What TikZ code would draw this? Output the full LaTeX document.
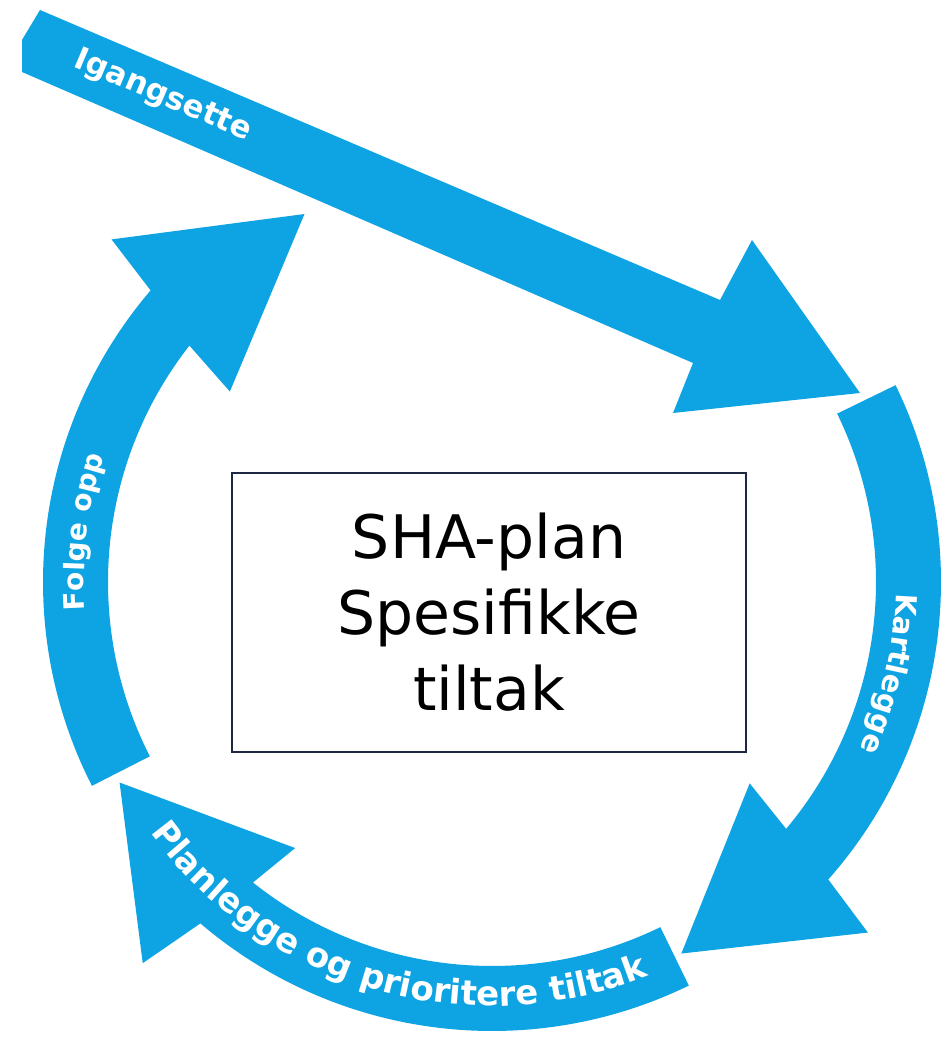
\documentclass[tikz,border=0pt]{standalone}
\usepackage{fontspec}
\newfontfamily\bandfont{DejaVu Sans}
\newfontfamily\boxfont{DejaVu Sans}
\usetikzlibrary{calc,decorations.text}
\definecolor{ringblue}{RGB}{14,164,228}
\definecolor{boxnavy}{RGB}{30,40,64}
\tikzstyle{band} = [fill=ringblue, draw=none]
\tikzstyle{bandtext} = [text=white, font=\bandfont\bfseries\fontsize{31}{31}\selectfont]
\tikzstyle{ringtext} = [decorate, decoration={text along path, text align=center}]
\tikzstyle{plan} = [rectangle, draw=boxnavy, line width=2.8pt, minimum width=514pt, minimum height=279pt, inner sep=0pt, align=center, font=\boxfont\fontsize{60}{76}\selectfont]

\begin{document}
\begin{tikzpicture}[x=1pt, y=1pt]
    \useasboundingbox (0,0) rectangle (952,1037);
    \coordinate (C) at (492,455);

    % Igangsette
    \fill [band] (40,1027) -- (22,997) -- (22,965) -- (693,674) -- (673,624)
        -- (860,644) -- (752,797) -- (720,737) -- cycle;
    \node [bandtext, rotate=-23] (start) at (163,941) {Igangsette};

    % Kartlegge
    \fill [band] ($(C)+(26:449)$) arc[start angle=26, end angle=-41.5, radius=449]
        -- ($(C)+(-43:514)$) -- ($(C)+(-63:417)$) -- ($(C)+(-38:327)$)
        -- ($(C)+(-40:384)$) arc[start angle=-40, end angle=26, radius=384] -- cycle;
    \path [ringtext, decoration={text={|\bandfont\bfseries\fontsize{29}{29}\selectfont\color{white}|Kartlegge}}]
        ($(C)+(17:404)$) arc[start angle=17, end angle=-43, radius=404];

    % Planlegge og prioritere tiltak
    \fill [band] ($(C)+(296:449)$) arc[start angle=296, end angle=229.5, radius=449]
        -- ($(C)+(227.5:517)$) -- ($(C)+(208.3:423)$) -- ($(C)+(233.5:331)$)
        -- ($(C)+(231.5:384)$) arc[start angle=231.5, end angle=296, radius=384] -- cycle;
    \path [ringtext, decoration={text={|\bandfont\bfseries\fontsize{34}{34}\selectfont\color{white}|Planlegge og prioritere tiltak}}]
        ($(C)+(206:424)$) arc[start angle=206, end angle=302, radius=424];

    % Folge opp
    \fill [band] ($(C)+(207:449)$) arc[start angle=207, end angle=139.5, radius=449]
        -- ($(C)+(138:512)$) -- ($(C)+(117:413)$) -- ($(C)+(144:324)$)
        -- ($(C)+(142:384)$) arc[start angle=142, end angle=207, radius=384] -- cycle;
    \path [ringtext, decoration={text={|\bandfont\bfseries\fontsize{28}{28}\selectfont\color{white}|Folge opp}}]
        ($(C)+(203:408)$) arc[start angle=203, end angle=143, radius=408];

    % SHA-plan
    \node [plan] (sha) at (489,424.5) {SHA-plan\\Spesifikke\\tiltak};
\end{tikzpicture}
\end{document}
